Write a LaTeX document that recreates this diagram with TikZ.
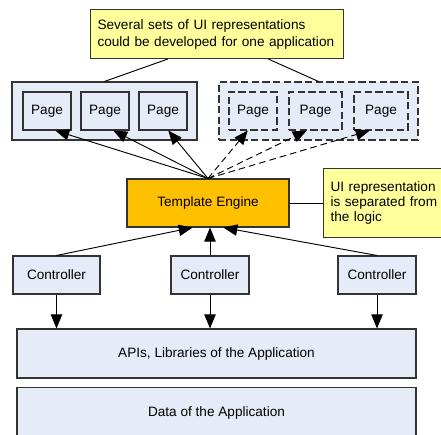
\documentclass[tikz,border=0pt]{standalone}
\usepackage{fontspec}
\setmainfont{Liberation Sans}
\usetikzlibrary{arrows.meta, calc, positioning}
\definecolor{notey}{RGB}{255, 255, 156}
\definecolor{pane}{RGB}{230, 236, 247}
\definecolor{engy}{RGB}{255, 192, 0}
\definecolor{edge}{HTML}{333333}

\begin{document}
\begin{tikzpicture}[x=0.75pt, y=-0.75pt, font=\fontsize{10.2}{12}\selectfont,
		box/.style={draw=edge, line width=0.8pt, fill=pane, inner sep=0pt, align=center},
		dbox/.style={box, dash pattern=on 5.5pt off 2.5pt},
		memo/.style={draw=edge, line width=0.8pt, fill=notey, align=left, inner xsep=5.25pt, inner ysep=0pt, anchor=north west},
		tip/.style={-{Triangle[length=10.5pt, width=8.5pt]}, line width=0.7pt, draw=black},
		dtip/.style={tip, dash pattern=on 5pt off 3pt}]
				\fill[white] (0,0) rectangle (441,434);
				\useasboundingbox (0,0) rectangle (441,434);
				
				% notes
				\node[memo, text width=179.25pt, minimum height=36.75pt, font=\fontsize{10.2}{12.75}\selectfont] (many) at (90,9) {Several sets of UI representations\\could be developed for one application};
				
				% page sets
				\node[box, minimum width=138.75pt, minimum height=43.5pt] (setA) at (104.5,111) {};
				\node[dbox, minimum width=149.25pt, minimum height=43.5pt] (setB) at (318.5,111) {};
				\foreach \n/\x in {1/47, 2/105, 3/163}
					\node[box, minimum width=36pt, minimum height=28.5pt] (pA\n) at (\x,111) {Page};
				\node[dbox, minimum width=36pt, minimum height=28.5pt] (pB1) at (253,111) {Page};
				\node[dbox, minimum width=39.75pt, minimum height=28.5pt] (pB2) at (315.5,111) {Page};
				\node[dbox, minimum width=40.5pt, minimum height=28.5pt] (pB3) at (381,111) {Page};
				
				\draw[draw=black, line width=0.7pt] ([xshift=-37pt]many.south) -- (setA.north);
				\draw[draw=black, line width=0.7pt] ([xshift=38.5pt]many.south) -- (setB.north);
				
				% engine
				\node[box, fill=engy, minimum width=121.5pt, minimum height=36pt] (eng) at (208,203) {Template Engine};
				\node[memo, text width=81pt, minimum height=51.75pt, font=\fontsize{10.2}{11.3}\selectfont] (split) at (323,168) {UI representation\\is separated from\\the logic};
				\draw[draw=black, line width=0.7pt] (eng.east) -- (split.west |- eng.east);
				
				\draw[tip] (eng.north) -- (pA1.-67);
				\draw[tip] (eng.north) -- (pA2.-67);
				\draw[tip] (eng.north) -- (pA3.-75);
				\draw[dtip] (eng.north) -- (pB1.-105);
				\draw[dtip] (eng.north) -- (pB2.-114);
				\draw[dtip] (eng.north) -- (pB3.-120);
				
				% controllers
				\node[box, minimum width=65.25pt, minimum height=28.5pt] (ctlA) at (56.5,275) {Controller};
				\node[box, minimum width=58.5pt, minimum height=28.5pt] (ctlB) at (210,275) {Controller};
				\node[box, minimum width=58.5pt, minimum height=28.5pt] (ctlC) at (377,275) {Controller};
				
				\draw[tip] (ctlA.north) -- (eng.-122);
				\draw[tip] (ctlB.north) -- (ctlB.north |- eng.south);
				\draw[tip] (ctlC.north) -- (eng.-58);
				
				% layers
				\node[box, minimum width=299.25pt, minimum height=36.75pt] (apis) at (216.5,353.5) {APIs, Libraries of the Application};
				\node[box, minimum width=299.25pt, minimum height=37.5pt, anchor=north] (data) at (216.5,387) {Data of the Application};
				
				\foreach \c in {ctlA, ctlB, ctlC}
					\draw[tip] (\c.south) -- (\c.south |- apis.north);
			\end{tikzpicture}
\end{document}
